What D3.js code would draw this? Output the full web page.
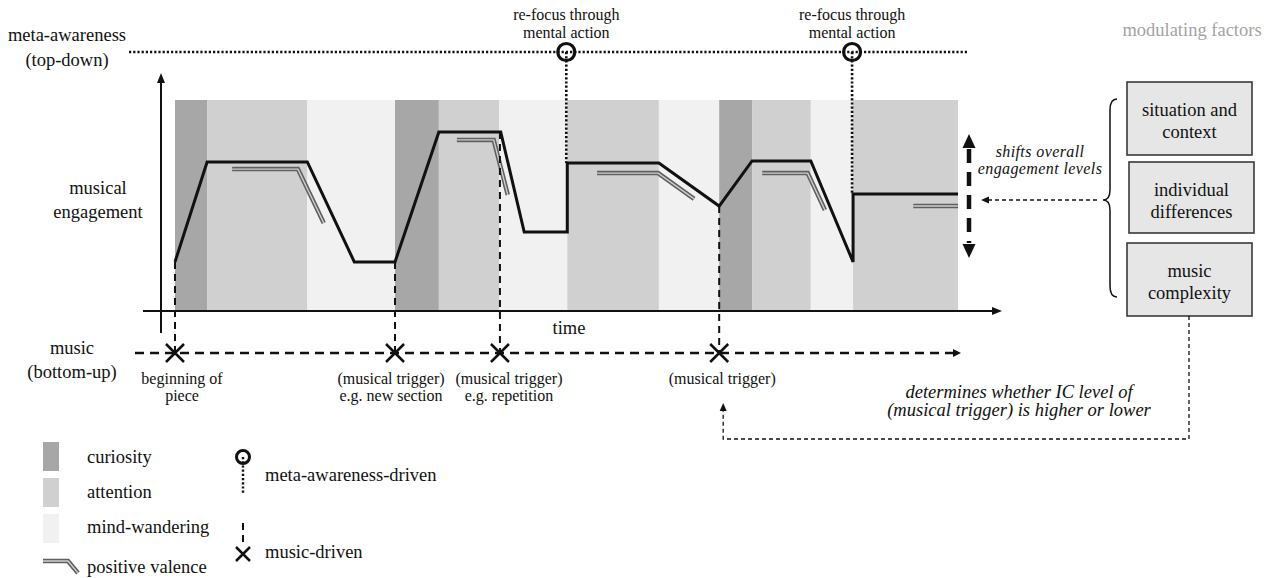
<!DOCTYPE html>
<html>
<head>
<meta charset="utf-8">
<script src="https://cdn.jsdelivr.net/npm/d3@7"></script>
<style>
  body { margin: 0; background: #fff; }
  svg text { font-family: "Liberation Serif", "Times New Roman", serif; fill: #111; }
</style>
</head>
<body>
<svg width="1271" height="578"></svg>
<script>
// состояния слушателя и их цвета
const states = ["curiosity", "attention", "mind-wandering"];
const stateColors = ["#a7a7a7", "#d0d0d0", "#f1f1f1"];

// полосы состояний во времени (начало, конец, состояние)
const bandStart = [0, 4.1, 16.9, 28.1, 33.7, 41.4, 50.1, 61.8, 69.5, 73.7, 81.2, 86.6];
const bandEnd   = [4.1, 16.9, 28.1, 33.7, 41.4, 50.1, 61.8, 69.5, 73.7, 81.2, 86.6, 100];
const bandState = ["curiosity", "attention", "mind-wandering", "curiosity", "attention", "mind-wandering",
                   "attention", "mind-wandering", "curiosity", "attention", "mind-wandering", "attention"];

// кривая вовлечённости (время, уровень)
const engageTime  = [0, 4.1, 16.9, 22.9, 28.1, 33.7, 41.6, 44.6, 50.1, 50.1, 61.8, 69.5, 73.7, 81.2, 86.6, 86.6, 100];
const engageLevel = [22.9, 70.5, 70.5, 22.9, 22.9, 84.8, 84.8, 37.1, 37.1, 70, 70, 49.5, 71, 71, 22.9, 55.2, 55.2];

// положительная валентность - отдельные отрезки
const valenceTime  = [[7.3, 15.7, 19.0], [36.0, 40.7, 42.5], [53.9, 61.7, 66.3], [75.0, 80.8, 83.0], [94.3, 100]];
const valenceLevel = [[67.1, 67.1, 41.4], [81.0, 81.0, 54.8], [65.2, 65.2, 52.9], [65.2, 65.2, 47.6], [49.5, 49.5]];

// музыкальные триггеры
const triggerTime = [0, 28.1, 41.5, 69.5];
const triggerLabels = [["beginning of", "piece"], ["(musical trigger)", "e.g. new section"],
                       ["(musical trigger)", "e.g. repetition"], ["(musical trigger)"]];

// моменты мета-осознания
const refocusTime = [50.1, 86.6];
const refocusLabel = ["re-focus through", "mental action"];

// модулирующие факторы
const factors = [["situation and", "context"], ["individual", "differences"], ["music", "complexity"]];

const svg = d3.select("svg");

const x = d3.scaleLinear().domain([0, 100]).range([175, 958]);
const y = d3.scaleLinear().domain([0, 100]).range([310, 100]);
const color = d3.scaleOrdinal().domain(states).range(stateColors);

const line = d3.line()
    .x((d) => x(d.t))
    .y((d) => y(d.v));

// уровень вовлечённости в момент t (берём последнюю точку <= t)
function levelAt(t) {
    let i = 0;
    for (let k = 0; k < engageTime.length; k++) {
        if (engageTime[k] <= t) i = k;
    }
    if (i >= engageTime.length - 1) return engageLevel[i];
    const t0 = engageTime[i], t1 = engageTime[i + 1];
    if (t1 == t0) return engageLevel[i];
    return engageLevel[i] + (engageLevel[i + 1] - engageLevel[i]) * (t - t0) / (t1 - t0);
}

// наконечник стрелки
function arrowHead(g, px, py, dir, len, half) {
    let pts;
    if (dir == "right") pts = [[px, py], [px - len, py - half], [px - len, py + half]];
    if (dir == "left")  pts = [[px, py], [px + len, py - half], [px + len, py + half]];
    if (dir == "up")    pts = [[px, py], [px - half, py + len], [px + half, py + len]];
    if (dir == "down")  pts = [[px, py], [px - half, py - len], [px + half, py - len]];
    g.append("path").attr("d", "M" + pts.join("L") + "Z").attr("fill", "#111");
}

// многострочный текст по центру
function multiText(g, lines, cx, baseY, lh, size, extra) {
    const t = g.append("text")
        .attr("x", cx).attr("y", baseY)
        .attr("text-anchor", "middle")
        .attr("font-size", size);
    if (extra) extra(t);
    lines.forEach((s, i) => {
        t.append("tspan").attr("x", cx).attr("y", baseY + i * lh).text(s);
    });
    return t;
}

const dotted = "2.2,2";

// полосы состояний
const bands = bandStart.map((s, i) => ({start: s, end: bandEnd[i], state: bandState[i]}));
svg.append("g").selectAll("rect")
    .data(bands)
    .join("rect")
    .attr("x", (d) => x(d.start))
    .attr("y", y(100))
    .attr("width", (d) => x(d.end) - x(d.start))
    .attr("height", y(0) - y(100))
    .attr("fill", (d) => color(d.state));

// оси
const axes = svg.append("g");
axes.append("line").attr("x1", 143).attr("x2", 994).attr("y1", y(0) + 1).attr("y2", y(0) + 1)
    .attr("stroke", "#111").attr("stroke-width", 2);
arrowHead(axes, 1002, y(0) + 1, "right", 10, 4);
axes.append("line").attr("x1", 161).attr("x2", 161).attr("y1", 333).attr("y2", 82)
    .attr("stroke", "#111").attr("stroke-width", 2);
arrowHead(axes, 161, 73, "up", 10, 4);

// положительная валентность (двойная линия)
const valence = svg.append("g");
valenceTime.forEach((ts, i) => {
    const pts = ts.map((t, k) => ({t: t, v: valenceLevel[i][k]}));
    valence.append("path").attr("d", line(pts)).attr("fill", "none")
        .attr("stroke", "#5f5f5f").attr("stroke-width", 4.5);
    valence.append("path").attr("d", line(pts)).attr("fill", "none")
        .attr("stroke", "#cfcfcf").attr("stroke-width", 1.4);
});

// триггеры: вертикальные пунктиры к музыкальной линии
const musicY = 353;
const trig = svg.append("g");
triggerTime.forEach((t) => {
    trig.append("line")
        .attr("x1", x(t)).attr("x2", x(t))
        .attr("y1", y(levelAt(t))).attr("y2", musicY)
        .attr("stroke", "#111").attr("stroke-width", 2)
        .attr("stroke-dasharray", "7,5");
});

// линия мета-осознания
const metaY = 52;
const meta = svg.append("g");
meta.append("line").attr("x1", 129).attr("x2", 968).attr("y1", metaY).attr("y2", metaY)
    .attr("stroke", "#111").attr("stroke-width", 2.6).attr("stroke-dasharray", dotted);
refocusTime.forEach((t) => {
    meta.append("line")
        .attr("x1", x(t) - 1).attr("x2", x(t) - 1)
        .attr("y1", metaY).attr("y2", y(levelAt(t)))
        .attr("stroke", "#111").attr("stroke-width", 2.6).attr("stroke-dasharray", dotted);
    meta.append("circle").attr("cx", x(t) - 1).attr("cy", metaY).attr("r", 8.5)
        .attr("fill", "none").attr("stroke", "#111").attr("stroke-width", 3.2);
    multiText(meta, refocusLabel, x(t) - 1, 20, 18, 16);
});

// кривая вовлечённости
const engage = engageTime.map((t, i) => ({t: t, v: engageLevel[i]}));
svg.append("path")
    .attr("d", line(engage))
    .attr("fill", "none")
    .attr("stroke", "#111")
    .attr("stroke-width", 3)
    .attr("stroke-linejoin", "miter");

// музыкальная линия
const music = svg.append("g");
music.append("line").attr("x1", 135).attr("x2", 954).attr("y1", musicY).attr("y2", musicY)
    .attr("stroke", "#111").attr("stroke-width", 2.5).attr("stroke-dasharray", "9,6");
arrowHead(music, 961, musicY, "right", 8, 4);
// сдвиг подписей триггеров, чтобы они не налезали друг на друга
const labelShift = [7, -4, 9, 3];
triggerTime.forEach((t, i) => {
    const cx = x(t);
    music.append("path")
        .attr("d", `M${cx - 9},${musicY - 9}L${cx + 9},${musicY + 9}M${cx + 9},${musicY - 9}L${cx - 9},${musicY + 9}`)
        .attr("stroke", "#111").attr("stroke-width", 2.5);
    multiText(music, triggerLabels[i], cx + labelShift[i], 384, 17, 16);
});

// подписи слева
const labels = svg.append("g");
multiText(labels, ["meta-awareness", "(top-down)"], 67, 41, 25, 18.5);
multiText(labels, ["musical", "engagement"], 98, 194, 24, 18.5);
multiText(labels, ["music", "(bottom-up)"], 72, 354, 24, 18.5);
multiText(labels, ["time"], 569, 334, 20, 18.5);

// модулирующие факторы справа
const right = svg.append("g");
multiText(right, ["modulating factors"], 1192, 36, 20, 18.5, (t) => t.style("fill", "#a3a3a3"));
const boxX = [1127, 1129, 1127];
const boxY = [82, 162, 243];
factors.forEach((f, i) => {
    right.append("rect")
        .attr("x", boxX[i]).attr("y", boxY[i])
        .attr("width", 125).attr("height", i == 1 ? 71 : 73)
        .attr("fill", "#e6e6e6").attr("stroke", "#3a3a3a").attr("stroke-width", 1.6);
    multiText(right, f, boxX[i] + 62.5, boxY[i] + 34, 22, 18.5);
});

// фигурная скобка
right.append("path")
    .attr("d", "M1117,99 Q1110,99 1110,110 L1110,190 Q1110,200 1103,200 Q1110,200 1110,210 L1110,286 Q1110,297 1117,297")
    .attr("fill", "none").attr("stroke", "#111").attr("stroke-width", 1.5);

// стрелка от скобки к линии
right.append("line").attr("x1", 1097).attr("x2", 988).attr("y1", 200).attr("y2", 200)
    .attr("stroke", "#111").attr("stroke-width", 1.3).attr("stroke-dasharray", "4,3");
arrowHead(right, 981, 200, "left", 8, 3.5);

// толстая пунктирная двойная стрелка
right.append("line").attr("x1", 969).attr("x2", 969).attr("y1", 149).attr("y2", 243)
    .attr("stroke", "#111").attr("stroke-width", 4.5).attr("stroke-dasharray", "14,9");
arrowHead(right, 969, 134, "up", 14, 6.5);
arrowHead(right, 969, 258, "down", 14, 6.5);
multiText(right, ["shifts overall", "engagement levels"], 1040, 157, 17, 16,
    (t) => t.attr("font-style", "italic").attr("letter-spacing", 0.4));

// обратная связь от сложности музыки к триггеру
right.append("path")
    .attr("d", `M1189,316 L1189,439 L${x(69.5) + 4},439 L${x(69.5) + 4},411`)
    .attr("fill", "none").attr("stroke", "#111").attr("stroke-width", 1.3).attr("stroke-dasharray", "4,3");
arrowHead(right, x(69.5) + 4, 403, "up", 8, 3.5);
multiText(right, ["determines whether IC level of", "(musical trigger) is higher or lower"], 1019, 398, 18, 18.5,
    (t) => t.attr("font-style", "italic"));

// легенда
const legend = svg.append("g");
states.forEach((s, i) => {
    legend.append("rect").attr("x", 43).attr("y", 442 + i * 36).attr("width", 16).attr("height", 29)
        .attr("fill", color(s));
    legend.append("text").attr("x", 87).attr("y", 463 + i * 35).attr("font-size", 18.5).text(s);
});
const legVal = [{t: 0, v: 0}, {t: 25, v: 0}, {t: 35, v: 12}];
const legLine = d3.line().x((d) => 43 + d.t).y((d) => 561 + d.v);
legend.append("path").attr("d", legLine(legVal)).attr("fill", "none").attr("stroke", "#5f5f5f").attr("stroke-width", 4.5);
legend.append("path").attr("d", legLine(legVal)).attr("fill", "none").attr("stroke", "#cfcfcf").attr("stroke-width", 1.4);
legend.append("text").attr("x", 87).attr("y", 573).attr("font-size", 18.5).text("positive valence");

legend.append("line").attr("x1", 243).attr("x2", 243).attr("y1", 457).attr("y2", 494)
    .attr("stroke", "#111").attr("stroke-width", 2.4).attr("stroke-dasharray", dotted);
legend.append("circle").attr("cx", 243).attr("cy", 457).attr("r", 6.5).attr("fill", "none")
    .attr("stroke", "#111").attr("stroke-width", 3);
legend.append("text").attr("x", 265).attr("y", 481).attr("font-size", 18.5).text("meta-awareness-driven");

legend.append("line").attr("x1", 243).attr("x2", 243).attr("y1", 523).attr("y2", 547)
    .attr("stroke", "#111").attr("stroke-width", 2).attr("stroke-dasharray", "7,5");
legend.append("path").attr("d", "M236,547L250,561M250,547L236,561")
    .attr("stroke", "#111").attr("stroke-width", 2.5);
legend.append("text").attr("x", 265).attr("y", 558).attr("font-size", 18.5).text("music-driven");
</script>
</body>
</html>
